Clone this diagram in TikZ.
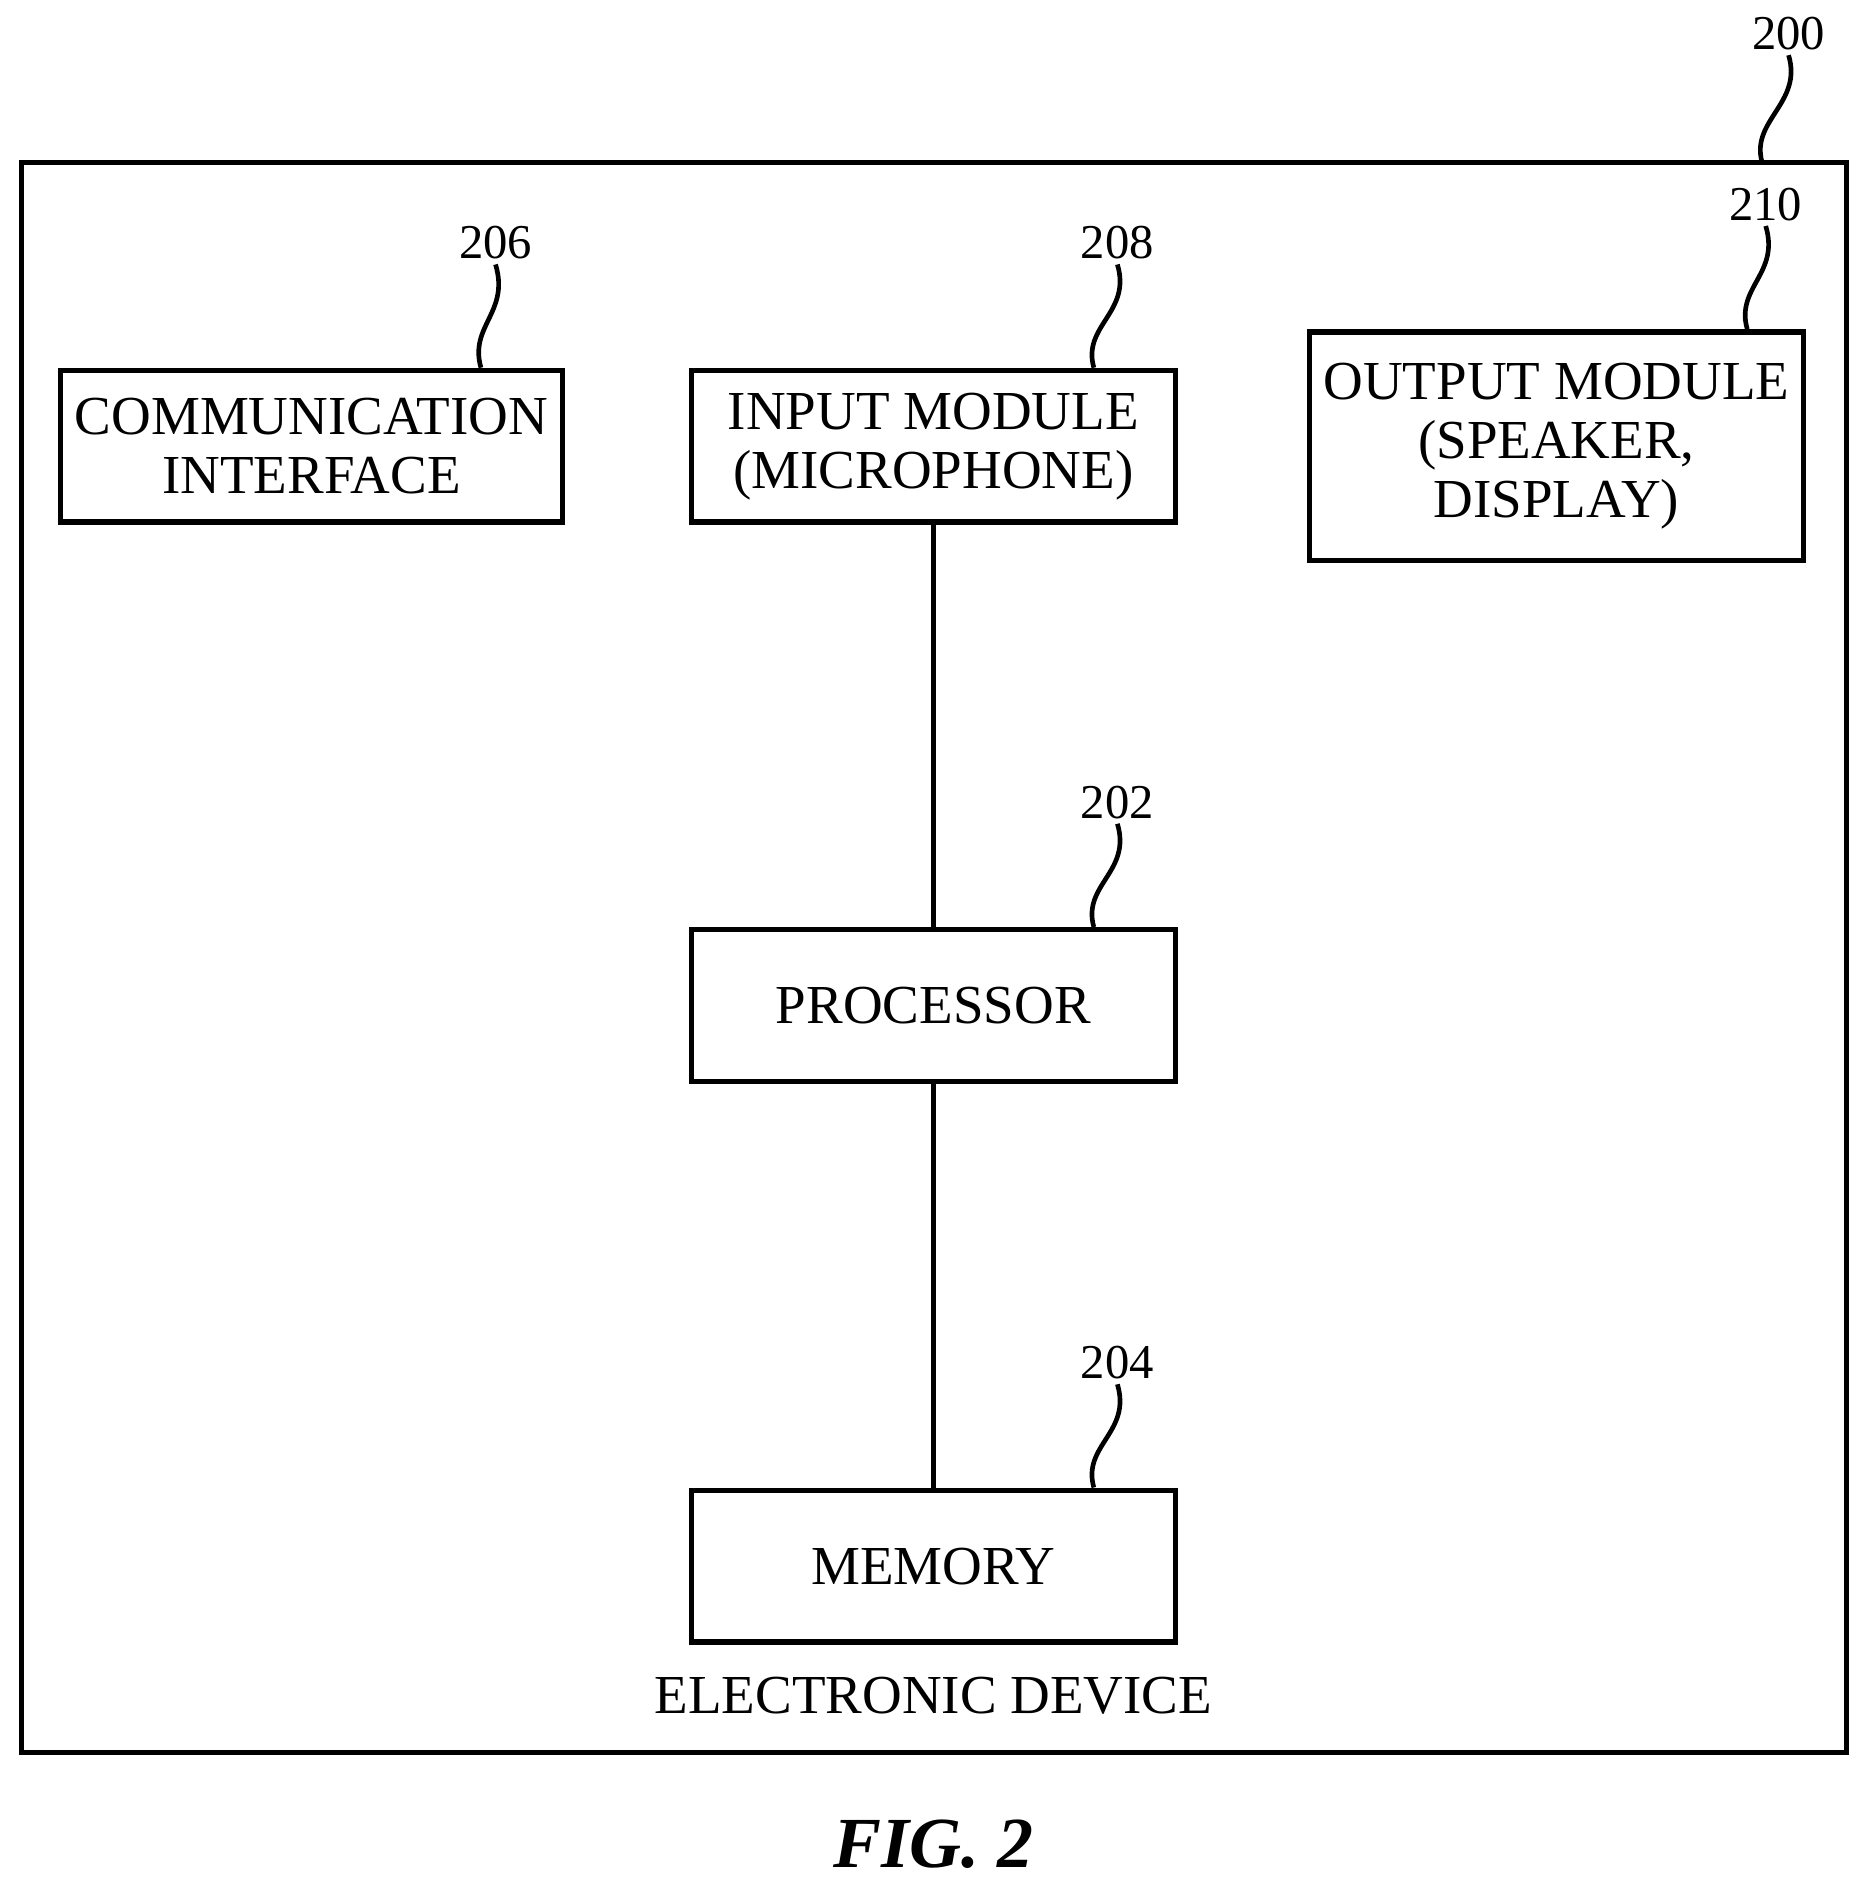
\documentclass[tikz,border=0pt]{standalone}
\usepackage{fontspec}
\setmainfont{Liberation Serif}
\usetikzlibrary{calc}
\tikzset{
  blk/.style={draw,line width=1.3pt,minimum width=4.02cm,align=center,font=\fontsize{13pt}{14pt}\selectfont},
  refnum/.style={font=\fontsize{11.5pt}{12pt}\selectfont,inner sep=1pt},
  lead/.style={line width=1.1pt}
}
\newcommand{\leadto}[2]{% #1 label node, #2 point on box
  \draw[lead] (#2) .. controls ($(#2)+(-10,-35)$) and ($(#1.south)+(12,40)$) .. (#1.south);}
\begin{document}
\begin{tikzpicture}[x=0.01cm,y=-0.01cm]
  \useasboundingbox (0,0) rectangle (1554,1568);
  \draw[line width=1.3pt] (18,135) rectangle (1535,1457);

  \node[blk,minimum height=1.26cm] (comm) at (259,371) {COMMUNICATION\\INTERFACE};
  \node[blk,minimum height=1.26cm] (inp)  at (776,371) {INPUT MODULE\\(MICROPHONE)};
  \node[blk,minimum height=1.90cm] (out)  at (1294,371) {OUTPUT MODULE\\(SPEAKER,\\DISPLAY)};
  \node[blk,minimum height=1.26cm] (proc) at (776,836) {PROCESSOR};
  \node[blk,minimum height=1.26cm] (mem)  at (776,1302) {MEMORY};
  \node[font=\fontsize{13pt}{14pt}\selectfont] (dev) at (776,1410) {ELECTRONIC DEVICE};
  \node[font=\fontsize{17pt}{18pt}\selectfont\bfseries\itshape] (fig) at (776,1533) {FIG. 2};

  \draw[line width=1.3pt] (inp) -- (proc);
  \draw[line width=1.3pt] (proc) -- (mem);

  % reference numerals
  \node[refnum] (n200) at (1487,28) {200};
  \node[refnum] (n206) at (412,202) {206};
  \node[refnum] (n208) at (929,202) {208};
  \node[refnum] (n210) at (1468,170) {210};
  \node[refnum] (n202) at (929,667) {202};
  \node[refnum] (n204) at (929,1133) {204};
  \coordinate (p200) at (1465,135);
  \coordinate (p206) at ($(comm.north east)+(-70,0)$);
  \coordinate (p208) at ($(inp.north east)+(-70,0)$);
  \coordinate (p210) at ($(out.north east)+(-49,0)$);
  \coordinate (p202) at ($(proc.north east)+(-70,0)$);
  \coordinate (p204) at ($(mem.north east)+(-70,0)$);
  \foreach \n in {200,206,208,210,202,204}
    {\leadto{n\n}{p\n}}
\end{tikzpicture}
\end{document}
